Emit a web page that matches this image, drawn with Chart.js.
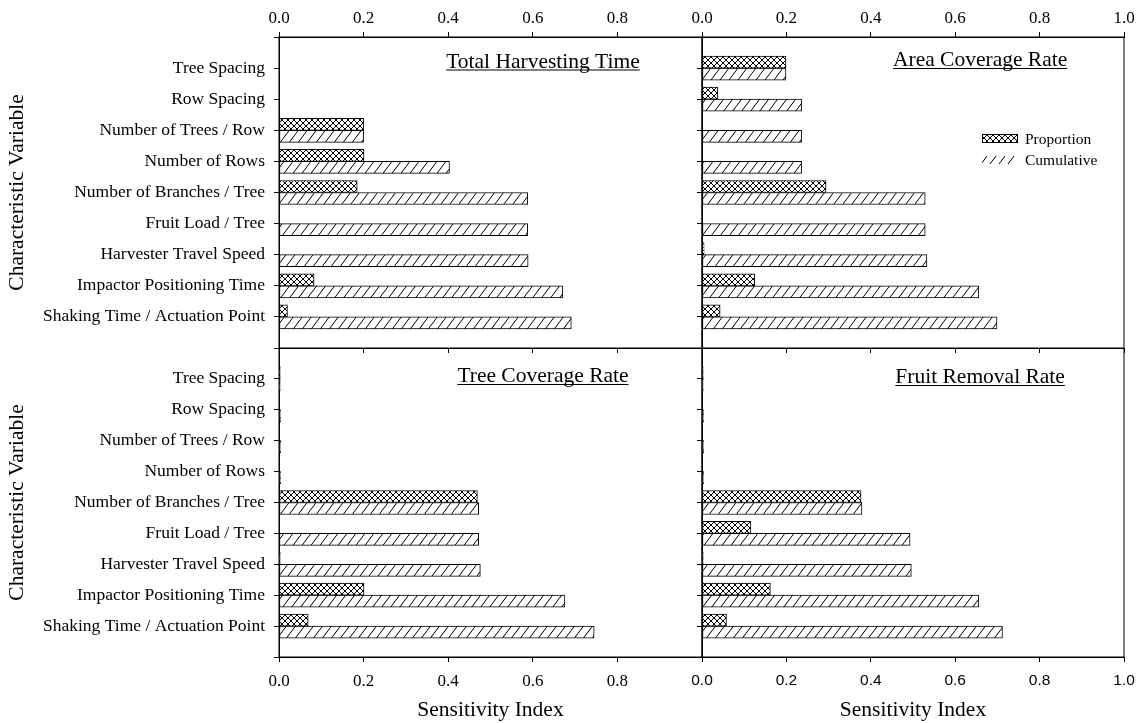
<!DOCTYPE html>
<html>
<head>
<meta charset="utf-8">
<script src="https://cdn.jsdelivr.net/npm/chart.js@4.4.1/dist/chart.umd.min.js"></script>
<style>
  body { margin: 0; background: #fff; }
  #wrap { position: relative; width: 1138px; height: 723px; }
  .pane { position: absolute; }
</style>
</head>
<body>
<div id="wrap">
  <div class="pane" style="left:0;top:0;width:712px;height:362px"><canvas id="c1"></canvas></div>
  <div class="pane" style="left:690px;top:0;width:448px;height:362px"><canvas id="c2"></canvas></div>
  <div class="pane" style="left:0;top:348px;width:712px;height:375px"><canvas id="c3"></canvas></div>
  <div class="pane" style="left:690px;top:348px;width:448px;height:375px"><canvas id="c4"></canvas></div>
</div>
<script>
// ---------------- data ----------------
const variables = [
  "Tree Spacing", "Row Spacing", "Number of Trees / Row", "Number of Rows",
  "Number of Branches / Tree", "Fruit Load / Tree", "Harvester Travel Speed",
  "Impactor Positioning Time", "Shaking Time / Actuation Point"
];
const seriesNames = ["Proportion", "Cumulative"];
const xTicks = [0, 0.2, 0.4, 0.6, 0.8, 1.0];

// Total Harvesting Time
const timeProportion = [0, 0, 0.200, 0.201, 0.185, 0, 0, 0.083, 0.020];
const timeCumulative = [0, 0, 0.200, 0.403, 0.588, 0.588, 0.589, 0.671, 0.691];
// Area Coverage Rate
const areaProportion = [0.199, 0.037, 0, 0, 0.294, 0, 0.005, 0.125, 0.043];
const areaCumulative = [0.199, 0.236, 0.236, 0.236, 0.529, 0.529, 0.533, 0.656, 0.699];
// Tree Coverage Rate
const treeProportion = [0.003, 0, 0, 0, 0.469, 0, 0.003, 0.201, 0.069];
const treeCumulative = [0.003, 0.004, 0.004, 0.004, 0.472, 0.472, 0.476, 0.676, 0.745];
// Fruit Removal Rate
const fruitProportion = [0.003, 0, 0, 0, 0.377, 0.116, 0.003, 0.162, 0.058];
const fruitCumulative = [0.003, 0.004, 0.004, 0.004, 0.379, 0.493, 0.496, 0.656, 0.712];

// ---------------- helpers ----------------
const serif = "'Liberation Serif', 'Times New Roman', serif";
const sans = "'Liberation Sans', Arial, sans-serif";
Chart.defaults.font.family = serif;
Chart.defaults.color = "#000";

function makePattern(kind) {
  const cross = kind === "cross";
  const w = cross ? 6 : 9, h = cross ? 6 : 12;
  const c = document.createElement("canvas");
  c.width = w; c.height = h;
  const g = c.getContext("2d");
  g.fillStyle = "#fff";
  g.fillRect(0, 0, w, h);
  g.strokeStyle = "#000";
  g.lineWidth = 1;
  g.beginPath();
  for (const dx of [-w, 0, w]) { g.moveTo(dx, h); g.lineTo(dx + w, 0); }
  if (cross) for (const dx of [-w, 0, w]) { g.moveTo(dx, 0); g.lineTo(dx + w, h); }
  g.stroke();
  return g.createPattern(c, "repeat");
}
const crossFill = makePattern("cross");
const slashFill = makePattern("slash");

// empty slot above and below the variables, so the bars sit one step in from the frame
const pad = arr => [null, ...arr, null];
const yLabels = ["", ...variables, ""];

// frame + underlined panel title
const panelDecor = {
  id: "panelDecor",
  afterDraw(chart, args, opts) {
    const { ctx, chartArea: a } = chart;
    ctx.save();
    ctx.strokeStyle = "#000";
    ctx.lineWidth = 1;
    ctx.strokeRect(a.left, a.top, a.right - a.left, a.bottom - a.top);
    ctx.font = "21.5px " + serif;
    ctx.fillStyle = "#000";
    ctx.textAlign = "center";
    ctx.textBaseline = "alphabetic";
    const cx = a.left + opts.x * (a.right - a.left);
    const by = a.top + opts.y;
    ctx.fillText(opts.text, cx, by);
    const w = ctx.measureText(opts.text).width;
    ctx.beginPath();
    ctx.moveTo(cx - w / 2, by + 2.5);
    ctx.lineTo(cx + w / 2, by + 2.5);
    ctx.stroke();
    ctx.restore();
  }
};

// legend box drawn inside the plot
const innerLegend = {
  id: "innerLegend",
  afterDraw(chart, args, opts) {
    if (!opts.show) return;
    const { ctx, chartArea: a } = chart;
    ctx.save();
    ctx.font = "15.5px " + serif;
    ctx.textBaseline = "middle";
    ctx.fillStyle = "#000";
    chart.data.datasets.forEach((ds, i) => {
      const x = a.left + 280, y = a.top + 102 + i * 21;
      ctx.fillStyle = ds.backgroundColor;
      ctx.fillRect(x, y - 4, 35, 8);
      if (i === 0) {
        ctx.strokeStyle = "#000";
        ctx.lineWidth = 1;
        ctx.strokeRect(x + 0.5, y - 4.5, 35, 8);
      }
      ctx.fillStyle = "#000";
      ctx.fillText(ds.label, x + 43, y + 1);
    });
    ctx.restore();
  }
};

function makePanel(id, cfg) {
  const tickFont = { family: cfg.sansTicks ? sans : serif, size: cfg.sansTicks ? 15.5 : 17 };
  const scales = {
    y: {
      type: "category",
      labels: yLabels,
      offset: false,
      grid: { offset: false, drawOnChartArea: false, tickLength: 5, color: "#000" },
      border: { color: "#000" },
      ticks: { display: cfg.yText, autoSkip: false, padding: 9, font: { size: 17.5 } },
      title: {
        display: cfg.yText, text: "Characteristic Variable",
        font: { size: 21.5 }, padding: { top: 4.5, bottom: 0 }
      },
      afterFit(s) { s.width = cfg.yText ? 279 : 12; s.paddingTop = 0; s.paddingBottom = 0; }
    },
    x: {
      type: "linear",
      position: cfg.top ? "top" : "bottom",
      min: 0, max: 1,
      afterBuildTicks(s) { s.ticks = xTicks.map(v => ({ value: v })); },
      ticks: {
        padding: cfg.top ? 3 : 9,
        font: tickFont,
        callback: v => (cfg.hideOne && v === 1 ? "" : v.toFixed(1))
      },
      grid: { drawOnChartArea: false, tickLength: 5, color: "#000" },
      border: { color: "#000" },
      title: {
        display: !cfg.top, text: "Sensitivity Index",
        font: { size: 21.5 }, padding: { top: 0, bottom: 0 }
      },
      afterFit(s) { s.height = cfg.top ? 37 : 66; s.paddingLeft = 0; s.paddingRight = 0; }
    }
  };
  if (cfg.top) {
    scales.x2 = {
      type: "linear", position: "bottom", min: 0, max: 1,
      afterBuildTicks(s) { s.ticks = xTicks.map(v => ({ value: v })); },
      ticks: { display: false },
      grid: { drawOnChartArea: false, tickLength: 5, color: "#000" },
      border: { color: "#000" },
      afterFit(s) { s.height = 14; s.paddingLeft = 0; s.paddingRight = 0; }
    };
  }

  return new Chart(document.getElementById(id), {
    type: "bar",
    data: {
      labels: yLabels,
      datasets: [
        {
          label: seriesNames[0], data: pad(cfg.prop), xAxisID: "x", yAxisID: "y",
          backgroundColor: crossFill, borderColor: "#000", borderWidth: 1,
          borderSkipped: false, barThickness: 12
        },
        {
          label: seriesNames[1], data: pad(cfg.cum), xAxisID: "x", yAxisID: "y",
          backgroundColor: slashFill, borderColor: "#000", borderWidth: 1,
          borderSkipped: false, barThickness: 12
        }
      ]
    },
    options: {
      indexAxis: "y",
      responsive: true,
      maintainAspectRatio: false,
      animation: false,
      events: [],
      layout: { padding: { left: 0, top: 0, bottom: 0, right: cfg.yText ? 10 : 14 } },
      scales: scales,
      plugins: {
        legend: { display: false },
        tooltip: { enabled: false },
        panelDecor: { text: cfg.title, x: cfg.titleX, y: cfg.titleY },
        innerLegend: { show: !!cfg.legend }
      }
    },
    plugins: [panelDecor, innerLegend]
  });
}

makePanel("c1", { prop: timeProportion, cum: timeCumulative, yText: true, top: true, hideOne: true,
  title: "Total Harvesting Time", titleX: 0.624, titleY: 30.5 });
makePanel("c2", { prop: areaProportion, cum: areaCumulative, yText: false, top: true, hideOne: false,
  title: "Area Coverage Rate", titleX: 0.659, titleY: 29, legend: true });
makePanel("c3", { prop: treeProportion, cum: treeCumulative, yText: true, top: false, hideOne: true,
  title: "Tree Coverage Rate", titleX: 0.624, titleY: 34 });
makePanel("c4", { prop: fruitProportion, cum: fruitCumulative, yText: false, top: false, hideOne: false,
  sansTicks: true, title: "Fruit Removal Rate", titleX: 0.659, titleY: 35 });
</script>
</body>
</html>
